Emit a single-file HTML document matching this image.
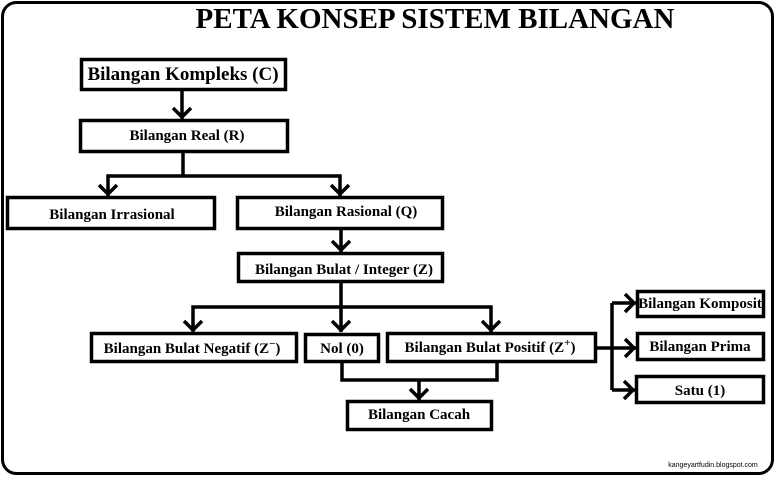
<!DOCTYPE html>
<html><head><style>body{margin:0;background:#fff}svg{display:block}</style></head><body>
<svg width="776" height="478" viewBox="0 0 776 478" xmlns="http://www.w3.org/2000/svg">
<rect x="2.5" y="2.5" width="770" height="471" rx="14" fill="#fff" stroke="#000" stroke-width="3"/>
<g font-family="Liberation Serif, serif" font-weight="bold" text-anchor="middle" fill="#000">
<text x="435" y="28" font-size="29">PETA KONSEP SISTEM BILANGAN</text>
</g>
<g fill="#fff" stroke="#000" stroke-width="3.5">
<rect x="81.5" y="59.5" width="204" height="30"/>
<rect x="80.5" y="120.5" width="207" height="31"/>
<rect x="7.5" y="197.5" width="207" height="31"/>
<rect x="237.5" y="197.5" width="205" height="31"/>
<rect x="238.5" y="253.5" width="204" height="28"/>
<rect x="91.5" y="333.5" width="205" height="28"/>
<rect x="305.5" y="334.5" width="73" height="27"/>
<rect x="387.5" y="333.5" width="208" height="28"/>
<rect x="347.5" y="401.5" width="144" height="28"/>
<rect x="637.5" y="291.5" width="126" height="25"/>
<rect x="637.5" y="333.5" width="126" height="26"/>
<rect x="636.5" y="376.5" width="127" height="26"/>
</g>
<g fill="none" stroke="#000" stroke-width="3.5">
<path d="M182 90V119M173 108l9 9 9-9"/>
<path d="M183 152V176M108 196V176H340V196M99 185l9 9 9-9M331 185l9 9 9-9"/>
<path d="M341 229V252M332 241l9 9 9-9"/>
<path d="M341 282V332M193 332V307H491V332M184 321l9 9 9-9M332 321l9 9 9-9M482 321l9 9 9-9"/>
<path d="M342 362V380H497V362M419 380V400M410 389l9 9 9-9"/>
<path d="M596 348H612M612 303V390M612 303H636M612 348H636M612 390H635M625 294l9 9-9 9M625 339l9 9-9 9M624 381l9 9-9 9"/>
</g>
<g font-family="Liberation Serif, serif" font-weight="bold" text-anchor="middle" fill="#000">
<text x="183" y="80" font-size="19">Bilangan Kompleks (C)</text>
<text x="187" y="140" font-size="15">Bilangan Real (R)</text>
<text x="112" y="219" font-size="15">Bilangan Irrasional</text>
<text x="346" y="216" font-size="15">Bilangan Rasional (Q)</text>
<text x="344" y="274" font-size="15">Bilangan Bulat / Integer (Z)</text>
<text x="192" y="353" font-size="15">Bilangan Bulat Negatif (Z<tspan baseline-shift="super" font-size="11">−</tspan>)</text>
<text x="342" y="353" font-size="15">Nol (0)</text>
<text x="490" y="352" font-size="15">Bilangan Bulat Positif (Z<tspan baseline-shift="super" font-size="11">+</tspan>)</text>
<text x="419" y="419" font-size="15">Bilangan Cacah</text>
<text x="700" y="308" font-size="15">Bilangan Komposit</text>
<text x="700" y="351" font-size="15">Bilangan Prima</text>
<text x="700" y="395" font-size="15">Satu (1)</text>
</g>
<text x="713" y="467" font-family="Liberation Sans, sans-serif" font-size="7" text-anchor="middle" fill="#000">kangeyartfudin.blogspot.com</text>
</svg>
</body></html>
